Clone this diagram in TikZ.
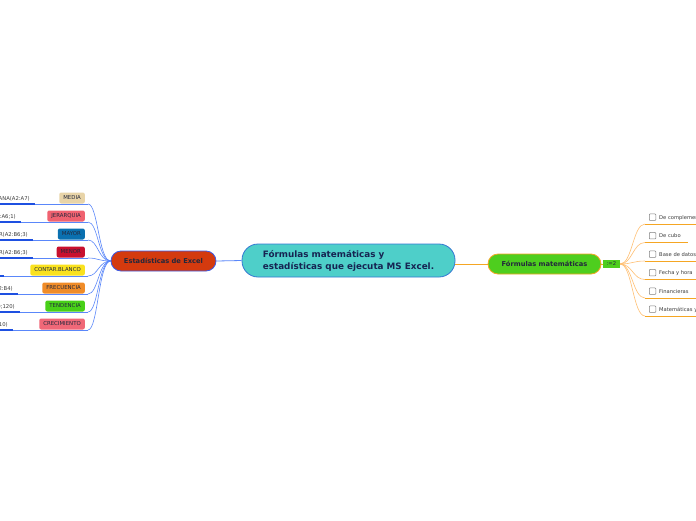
\documentclass[tikz,border=0pt]{standalone}
\usepackage{fontspec}
\setmainfont{DejaVu Sans}
\definecolor{centerfill}{RGB}{78,207,201}
\definecolor{centerdraw}{RGB}{52,120,210}
\definecolor{centertext}{RGB}{22,36,82}
\definecolor{estfill}{RGB}{212,58,14}
\definecolor{estdraw}{RGB}{60,90,230}
\definecolor{fmfill}{RGB}{78,206,30}
\definecolor{fmdraw}{RGB}{245,166,35}
\definecolor{nodetext}{RGB}{35,40,60}
\definecolor{lightblue}{RGB}{90,135,250}
\definecolor{darkblue}{RGB}{30,80,225}
\definecolor{lightorange}{RGB}{255,192,115}
\definecolor{orangeline}{RGB}{245,166,35}
\definecolor{cMedia}{RGB}{232,212,168}
\definecolor{cJer}{RGB}{240,98,112}
\definecolor{cMayor}{RGB}{10,112,176}
\definecolor{cMenor}{RGB}{200,16,46}
\definecolor{cContar}{RGB}{250,226,30}
\definecolor{cFrec}{RGB}{240,140,40}
\definecolor{cTend}{RGB}{72,208,24}
\definecolor{cCrec}{RGB}{240,104,120}
\definecolor{grayText}{RGB}{60,60,60}
\tikzset{
  mainbox/.style={draw, line width=0.8pt, rounded corners=10pt, minimum height=20pt, inner sep=0pt, font=\fontsize{6.7}{7.5}\selectfont\bfseries, text=nodetext},
  tagbox/.style={rounded corners=2pt, minimum height=11pt, inner xsep=4pt, inner ysep=0pt, font=\fontsize{5.4}{6}\selectfont, text=nodetext},
  formula/.style={inner sep=0pt, font=\fontsize{5.3}{6}\selectfont, text=grayText},
  righttext/.style={inner sep=0pt, font=\fontsize{5.2}{6}\selectfont, text=grayText},
  checkbox/.style={draw=gray, line width=0.5pt, rounded corners=0.8pt, minimum size=6.5pt, inner sep=0pt},
  leftline/.style={draw=lightblue, line width=0.7pt},
  darkline/.style={draw=darkblue, line width=1.1pt},
  leftcurve/.style={draw=lightblue, line width=0.6pt},
  rightcurve/.style={draw=lightorange, line width=0.6pt},
  rightline/.style={draw=orangeline, line width=0.9pt},
}
\begin{document}
\begin{tikzpicture}[x=1pt,y=-1pt]
\useasboundingbox (0,0) rectangle (696,520);
\fill[white] (0,0) rectangle (696,520);
\clip (0,0) rectangle (696,520);

% central node
\node[draw=centerdraw, fill=centerfill, line width=0.8pt, rounded corners=16pt,
      minimum width=213pt, minimum height=33pt, inner sep=0pt,
      align=left, text=centertext, font=\fontsize{8.8}{12}\selectfont\bfseries]
      (center) at (348.5,260.5) {Fórmulas matemáticas y\\estadísticas que ejecuta MS Excel.};

% main branches
\node[mainbox, fill=estfill, draw=estdraw, minimum width=105pt] (est) at (163.5,261) {Estadísticas de Excel};
\node[mainbox, fill=fmfill, draw=fmdraw, minimum width=113pt] (fm) at (544.5,264) {Fórmulas matemáticas};
\node[fill=fmfill, minimum width=17pt, minimum height=8pt, inner sep=0pt,
      font=\fontsize{5.3}{6}\selectfont, text=nodetext] (cnt) at (611.5,264) {:=2};

\draw[draw=lightblue, line width=0.8pt] (center.west) -- (est.east);
\draw[draw=orangeline, line width=0.8pt] (center.east |- fm.west) -- (fm.west);
\draw[draw=orangeline, line width=0.8pt] (fm.east) -- (cnt.west);

% left children
\foreach \n/\lab/\col/\yy/\fx/\ftext in {
  media/MEDIA/cMedia/198/30/{=MEDIANA(A2:A7)},
  jer/JERARQUIA/cJer/216/16/{=JERARQUIA(A3;A2:A6;1)},
  mayor/MAYOR/cMayor/234/28/{=K.ESIMO.MAYOR(A2:B6;3)},
  menor/MENOR/cMenor/252/28/{=K.ESIMO.MENOR(A2:B6;3)},
  contar/CONTAR.BLANCO/cContar/270/-1/{=CONTAR.BLANCO(A2:B4)},
  frec/FRECUENCIA/cFrec/288/13/{=FRECUENCIA(A2:A10;B2:B4)},
  tend/TENDENCIA/cTend/306/15/{=TENDENCIA(A2:A10;B2:B10;120)},
  crec/CRECIMIENTO/cCrec/324/8/{=CRECIMIENTO(A2:A10)}}
{
  \node[tagbox, fill=\col, anchor=east] (\n) at (85,\yy) {\lab};
  \node[formula, anchor=base east] (\n f) at ({\fx},{\yy+2}) {\ftext};
  \coordinate (\n u) at (88,{\yy+6});
  \draw[leftline] ([xshift=5pt]\n f.east |- \n u) -- (\n u);
  \draw[darkline] (\n f.west |- \n u) -- ([xshift=5pt]\n f.east |- \n u);
  \draw[leftcurve] (est.west) .. controls +(-12,0) and +(10,0) .. (\n u);
}

% right children
\foreach \i/\lab/\yy/\ext in {
  1/De complemento/224/7,
  2/De cubo/242.5/7,
  3/Base de datos/261/7,
  4/Fecha y hora/279.5/9,
  5/Financieras/298/7,
  6/Matemáticas y trigonométricas/316/7}
{
  \coordinate (rs\i) at (645,\yy);
  \node[checkbox] (cb\i) at (652.5,{\yy-6.8}) {};
  \node[righttext, anchor=base west] (r\i) at (659,{\yy-5}) {\lab};
  \draw[rightline] (rs\i) -- ([xshift=\ext pt]r\i.east |- rs\i);
  \draw[rightcurve] (cnt.east) .. controls +(12,0) and +(-12,0) .. (rs\i);
}
\end{tikzpicture}
\end{document}
